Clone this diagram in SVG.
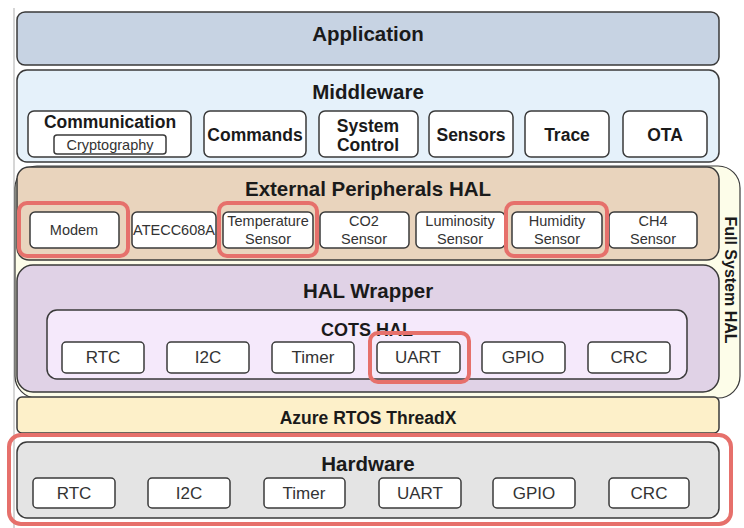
<svg xmlns="http://www.w3.org/2000/svg" width="744" height="528" viewBox="0 0 744 528">
  <style>
    text { font-family: "Liberation Sans", Arial, sans-serif; fill: #1a1a1a; text-anchor: middle; }
    .layer { stroke: #3a3a3a; stroke-width: 1.5; }
    .box { fill: #ffffff; stroke: #3a3a3a; stroke-width: 1.5; }
    .hl { fill: none; stroke: #e6706b; stroke-width: 4; }
    .title { font-size: 20.5px; font-weight: bold; }
    .bold { font-size: 17.5px; font-weight: bold; }
    .small { font-size: 14.5px; fill: #333; }
    .mid { font-size: 17px; fill: #333; }
  </style>

  <!-- page margin line -->
  <line x1="14" y1="8" x2="14" y2="528" stroke="#c8c8c8" stroke-width="1.5"/>

  <!-- Full System HAL bracket behind the two HAL layers -->
  <g id="full-system-hal">
    <rect x="15" y="166" width="725" height="232" rx="22" fill="#fdfde9" stroke="#3a3a3a" stroke-width="1.2"/>
    <text class="bold" font-size="16px" transform="translate(725 280) rotate(90)" style="font-size:16px">Full System HAL</text>
  </g>

  <!-- Application -->
  <g id="application">
    <rect class="layer" x="17" y="12" width="702" height="53" rx="8" fill="#c7d3e3"/>
    <text class="title" x="368" y="41">Application</text>
  </g>

  <!-- Middleware -->
  <g id="middleware">
    <rect class="layer" x="17" y="70" width="702" height="92" rx="10" fill="#e5f1fa"/>
    <text class="title" x="368" y="99">Middleware</text>
    <g id="mw-communication">
      <rect class="box" x="28" y="111" width="163" height="46" rx="6"/>
      <text class="bold" x="110" y="128">Communication</text>
      <rect class="box" x="54" y="135" width="112" height="19" rx="3"/>
      <text class="small" x="110" y="150">Cryptography</text>
    </g>
    <g id="mw-commands">
      <rect class="box" x="204" y="111" width="102" height="46" rx="6"/>
      <text class="bold" x="255" y="141">Commands</text>
    </g>
    <g id="mw-system-control">
      <rect class="box" x="319" y="111" width="99" height="46" rx="6"/>
      <text class="bold" x="368" y="132">System</text>
      <text class="bold" x="368" y="151">Control</text>
    </g>
    <g id="mw-sensors">
      <rect class="box" x="429" y="111" width="84" height="46" rx="6"/>
      <text class="bold" x="471" y="141">Sensors</text>
    </g>
    <g id="mw-trace">
      <rect class="box" x="525" y="111" width="84" height="46" rx="6"/>
      <text class="bold" x="567" y="141">Trace</text>
    </g>
    <g id="mw-ota">
      <rect class="box" x="623" y="111" width="84" height="46" rx="6"/>
      <text class="bold" x="665" y="141">OTA</text>
    </g>
  </g>

  <!-- External Peripherals HAL -->
  <g id="external-peripherals-hal">
    <rect class="layer" x="17" y="167" width="702" height="93" rx="12" fill="#e9d4bd"/>
    <text class="title" x="368" y="196">External Peripherals HAL</text>
    <g id="ext-modem">
      <rect class="box" x="30" y="212" width="89" height="36" rx="5"/>
      <text class="small" x="74" y="235">Modem</text>
    </g>
    <g id="ext-atecc608a">
      <rect class="box" x="132" y="212" width="84" height="36" rx="5"/>
      <text class="small" x="174" y="235">ATECC608A</text>
    </g>
    <g id="ext-temperature">
      <rect class="box" x="223" y="212" width="90" height="36" rx="5"/>
      <text class="small" x="268" y="226">Temperature</text>
      <text class="small" x="268" y="244">Sensor</text>
    </g>
    <g id="ext-co2">
      <rect class="box" x="320" y="212" width="89" height="36" rx="5"/>
      <text class="small" x="364" y="226">CO2</text>
      <text class="small" x="364" y="244">Sensor</text>
    </g>
    <g id="ext-luminosity">
      <rect class="box" x="416" y="212" width="89" height="36" rx="5"/>
      <text class="small" x="460" y="226">Luminosity</text>
      <text class="small" x="460" y="244">Sensor</text>
    </g>
    <g id="ext-humidity">
      <rect class="box" x="512" y="212" width="90" height="36" rx="5"/>
      <text class="small" x="557" y="226">Humidity</text>
      <text class="small" x="557" y="244">Sensor</text>
    </g>
    <g id="ext-ch4">
      <rect class="box" x="609" y="212" width="88" height="36" rx="5"/>
      <text class="small" x="653" y="226">CH4</text>
      <text class="small" x="653" y="244">Sensor</text>
    </g>
  </g>

  <!-- HAL Wrapper -->
  <g id="hal-wrapper">
    <rect class="layer" x="17" y="265" width="702" height="127" rx="16" fill="#e0d2e6"/>
    <text class="title" x="368" y="298">HAL Wrapper</text>
    <g id="cots-hal">
      <rect class="layer" x="47" y="310" width="640" height="69" rx="10" fill="#f5e9fb" stroke-width="1.3"/>
      <text class="bold" x="367" y="336" style="font-size:18px">COTS HAL</text>
    </g>
    <g id="cots-rtc">
      <rect class="box" x="62" y="342" width="82" height="31" rx="4"/>
      <text class="mid" x="103" y="363">RTC</text>
    </g>
    <g id="cots-i2c">
      <rect class="box" x="167" y="342" width="82" height="31" rx="4"/>
      <text class="mid" x="208" y="363">I2C</text>
    </g>
    <g id="cots-timer">
      <rect class="box" x="272" y="342" width="82" height="31" rx="4"/>
      <text class="mid" x="313" y="363">Timer</text>
    </g>
    <g id="cots-uart">
      <rect class="box" x="377" y="342" width="83" height="31" rx="4"/>
      <text class="mid" x="418" y="363">UART</text>
    </g>
    <g id="cots-gpio">
      <rect class="box" x="482" y="342" width="83" height="31" rx="4"/>
      <text class="mid" x="523" y="363">GPIO</text>
    </g>
    <g id="cots-crc">
      <rect class="box" x="588" y="342" width="82" height="31" rx="4"/>
      <text class="mid" x="629" y="363">CRC</text>
    </g>
  </g>

  <!-- Azure RTOS ThreadX -->
  <g id="threadx">
    <rect class="layer" x="17" y="397" width="702" height="36" rx="5" fill="#fdf0c9"/>
    <text class="bold" x="368" y="424">Azure RTOS ThreadX</text>
  </g>

  <!-- Hardware -->
  <g id="hardware">
    <rect class="layer" x="17" y="442" width="702" height="76" rx="10" fill="#e4e4e4"/>
    <text class="title" x="368" y="471">Hardware</text>
    <g id="hw-rtc">
      <rect class="box" x="33" y="478" width="82" height="30" rx="4"/>
      <text class="mid" x="74" y="499">RTC</text>
    </g>
    <g id="hw-i2c">
      <rect class="box" x="148" y="478" width="82" height="30" rx="4"/>
      <text class="mid" x="189" y="499">I2C</text>
    </g>
    <g id="hw-timer">
      <rect class="box" x="264" y="478" width="81" height="30" rx="4"/>
      <text class="mid" x="304" y="499">Timer</text>
    </g>
    <g id="hw-uart">
      <rect class="box" x="379" y="478" width="82" height="30" rx="4"/>
      <text class="mid" x="420" y="499">UART</text>
    </g>
    <g id="hw-gpio">
      <rect class="box" x="493" y="478" width="82" height="30" rx="4"/>
      <text class="mid" x="534" y="499">GPIO</text>
    </g>
    <g id="hw-crc">
      <rect class="box" x="609" y="478" width="80" height="30" rx="4"/>
      <text class="mid" x="649" y="499">CRC</text>
    </g>
  </g>

  <!-- emphasis outlines -->
  <g id="highlights">
    <rect class="hl" x="19" y="203" width="109" height="53" rx="8"/>
    <rect class="hl" x="219" y="203" width="98" height="53" rx="8"/>
    <rect class="hl" x="506" y="203" width="101" height="53" rx="8"/>
    <rect class="hl" x="370" y="333" width="99" height="49" rx="8"/>
    <rect class="hl" x="9" y="435" width="722" height="89" rx="12"/>
  </g>

  <g id="connectors"></g>
</svg>
